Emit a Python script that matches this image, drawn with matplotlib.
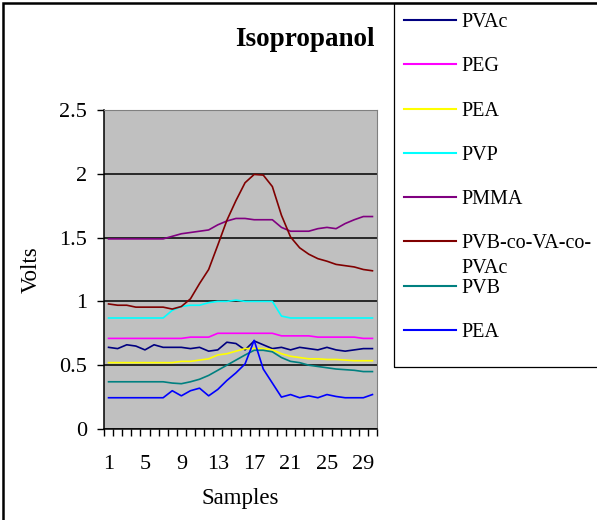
import matplotlib
matplotlib.use("Agg")
import matplotlib.pyplot as plt
from matplotlib.patches import Rectangle
import numpy as np

plt.rcParams['font.family'] = ['Liberation Serif', 'DejaVu Serif']

# samples 1..30, voltage per polymer sensor
samples = np.arange(1, 31)

pvac = [0.64, 0.63, 0.66, 0.65, 0.62, 0.66, 0.64, 0.64, 0.64, 0.63,
        0.64, 0.61, 0.62, 0.68, 0.67, 0.62, 0.69, 0.66, 0.63, 0.64,
        0.62, 0.64, 0.63, 0.62, 0.64, 0.62, 0.61, 0.62, 0.63, 0.63]
peg = [0.71, 0.71, 0.71, 0.71, 0.71, 0.71, 0.71, 0.71, 0.71, 0.72,
       0.72, 0.72, 0.75, 0.75, 0.75, 0.75, 0.75, 0.75, 0.75, 0.73,
       0.73, 0.73, 0.73, 0.72, 0.72, 0.72, 0.72, 0.72, 0.71, 0.71]
pea = [0.52, 0.52, 0.52, 0.52, 0.52, 0.52, 0.52, 0.52, 0.53, 0.53,
       0.54, 0.55, 0.58, 0.59, 0.61, 0.63, 0.63, 0.63, 0.62, 0.59,
       0.57, 0.56, 0.55, 0.55, 0.545, 0.545, 0.54, 0.535, 0.535, 0.535]
pvp = [0.87, 0.87, 0.87, 0.87, 0.87, 0.87, 0.87, 0.93, 0.96, 0.97,
       0.97, 0.99, 1.0, 1.0, 1.01, 1.0, 1.0, 1.0, 1.0, 0.885,
       0.87, 0.87, 0.87, 0.87, 0.87, 0.87, 0.87, 0.87, 0.87, 0.87]
pmma = [1.49, 1.49, 1.49, 1.49, 1.49, 1.49, 1.49, 1.51, 1.53, 1.54,
        1.55, 1.56, 1.60, 1.63, 1.65, 1.65, 1.64, 1.64, 1.64, 1.58,
        1.55, 1.55, 1.55, 1.57, 1.58, 1.57, 1.61, 1.64, 1.665, 1.665]
pvb_va_pvac = [0.98, 0.97, 0.97, 0.955, 0.955, 0.955, 0.955, 0.94, 0.96, 1.02,
               1.14, 1.25, 1.44, 1.635, 1.79, 1.93, 1.995, 1.99, 1.90, 1.675,
               1.505, 1.42, 1.37, 1.335, 1.315, 1.29, 1.28, 1.27, 1.25, 1.24]
pvb = [0.37, 0.37, 0.37, 0.37, 0.37, 0.37, 0.37, 0.36, 0.355, 0.37,
       0.39, 0.42, 0.46, 0.50, 0.54, 0.58, 0.617, 0.617, 0.605, 0.56,
       0.53, 0.52, 0.50, 0.49, 0.48, 0.47, 0.465, 0.46, 0.45, 0.45]
pea2 = [0.245, 0.245, 0.245, 0.245, 0.245, 0.245, 0.245, 0.30, 0.26, 0.30,
        0.32, 0.26, 0.31, 0.38, 0.44, 0.51, 0.695, 0.47, 0.36, 0.25,
        0.27, 0.245, 0.26, 0.245, 0.27, 0.255, 0.245, 0.245, 0.245, 0.27]

series = [pvac, peg, pea, pvp, pmma, pvb_va_pvac, pvb, pea2]
labels = ["PVAc", "PEG", "PEA", "PVP", "PMMA", "PVB-co-VA-co-", "PVB", "PEA"]
colors = ["#000080", "#FF00FF", "#FFFF00", "#00FFFF", "#800080",
          "#800000", "#008080", "#0000FF"]

W, H = 597, 520
fig = plt.figure(figsize=(W/100, H/100), dpi=100)
ax = fig.add_axes([104/W, 1-429/H, 273/W, 319/H])
ax.set_facecolor("#C0C0C0")

for y, lab, c in zip(series, labels, colors):
    ax.plot(samples, y, color=c, lw=1.2, label=lab)

ax.set_xlim(0.5, 30.5)
ax.set_ylim(0, 2.5)
ax.set_yticks(np.arange(0, 2.51, 0.5))
ax.set_yticklabels(["0", "0.5", "1", "1.5", "2", "2.5"])
ax.set_xticks(samples[::4])
ax.set_xticks(np.arange(0.5, 31, 1), minor=True)
ax.tick_params(axis='x', which='major', length=0, pad=19, labelsize=16)
ax.tick_params(axis='x', which='minor', length=5, width=1, direction='out')
ax.tick_params(axis='y', length=5, width=1, pad=7, labelsize=16)
ax.grid(axis='y', color='black', lw=1.1)
ax.set_axisbelow(True)
for s in ['top', 'right']:
    ax.spines[s].set_color('#808080')
ax.spines['left'].set_linewidth(1.1)
ax.spines['bottom'].set_linewidth(1.1)

ax.set_xlabel("Samples", fontsize=16.5, labelpad=10)
ax.set_ylabel("Volts", fontsize=16.5, labelpad=13)
fig.text(375/W, 1-40/H, "Isopropanol", fontsize=19.5, fontweight='bold',
         ha='right', va='center')

leg = fig.legend(loc='upper left', bbox_to_anchor=(404/W, 1-13/H),
                 frameon=False, fontsize=14.5, handlelength=2.6,
                 handletextpad=0.25, labelspacing=1.25, borderpad=0,
                 borderaxespad=0)
for line in leg.get_lines():
    line.set_linewidth(1.5)

# second line of the wrapped legend label, placed under the first line
fig.canvas.draw()
bb = leg.get_texts()[5].get_window_extent()
fig.text(bb.x0/W, (bb.y0 - 25 + bb.height/2)/H, "PVAc", fontsize=14.5,
         ha='left', va='center')

# legend frame and outer chart border
fig.add_artist(Rectangle((394/W, 1-367/H), 0.5, 364/H,
                         transform=fig.transFigure, fill=False,
                         edgecolor='black', lw=0.9, clip_on=False))
fig.add_artist(Rectangle((3/W, -0.2), 1.2, 1.2 - 3/H,
                         transform=fig.transFigure, fill=False,
                         edgecolor='black', lw=1.8, clip_on=False))

fig.savefig("out.png", dpi=100)
